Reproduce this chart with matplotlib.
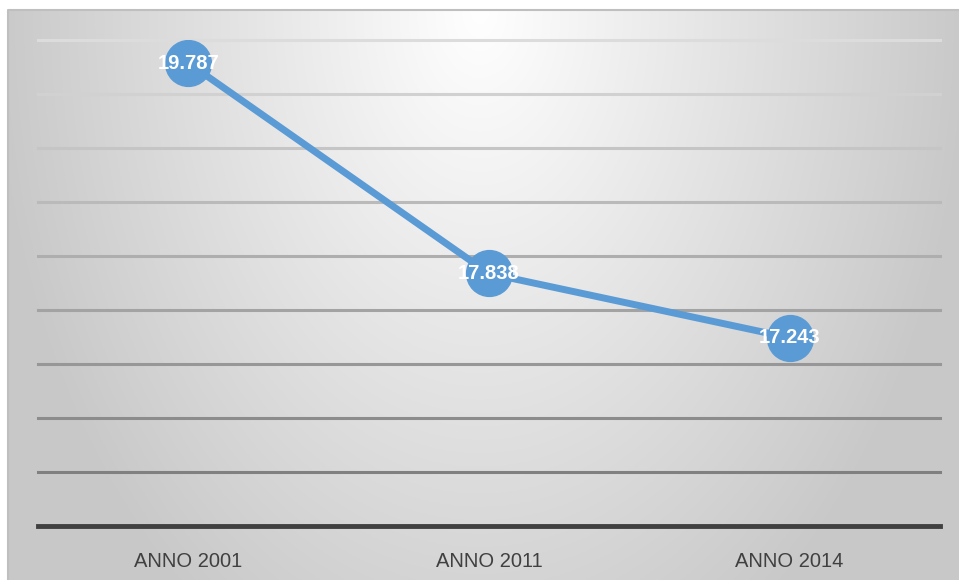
import numpy as np
import matplotlib.pyplot as plt
from matplotlib import font_manager

categories = ['ANNO 2001', 'ANNO 2011', 'ANNO 2014']
values = [19.787, 17.838, 17.243]
value_labels = ['19.787', '17.838', '17.243']
grid_levels = np.arange(15.5, 20.01, 0.5)

names = {f.name for f in font_manager.fontManager.ttflist}
narrow = 'Liberation Sans Narrow' if 'Liberation Sans Narrow' in names else 'Liberation Sans'

W, H = 959, 580
fig = plt.figure(figsize=(W / 100, H / 100), dpi=100)
fig.patch.set_facecolor('white')

# gradient backdrop
bx0, by0 = 8, 10
bg = fig.add_axes([bx0 / W, 0, (W - bx0) / W, (H - by0) / H])
bg.set_axis_off()
ny, nx = 300, 500
xx, yy = np.meshgrid(np.linspace(0, W - bx0, nx), np.linspace(0, H - by0, ny))
d = np.sqrt(((xx - 472) / 480) ** 2 + ((yy - 0) / 720) ** 2)
shade = np.clip(1.0 - 0.21 * d, 0.785, 1.0)
img = np.dstack([shade, shade, shade])
bg.imshow(img, extent=[0, 1, 0, 1], aspect='auto', origin='upper')
bg.set_xlim(0, 1)
bg.set_ylim(0, 1)
bg.plot([0, 0, 1], [0, 1, 1], color='#bfbfbf', lw=1.5, clip_on=False)

# main plot area
px0, px1 = 38, 940
py_top, py_bot = 40, 526
ax = fig.add_axes([px0 / W, (H - py_bot) / H, (px1 - px0) / W, (py_bot - py_top) / H])
ax.patch.set_alpha(0)
ax.set_xlim(-0.5, 2.5)
ax.set_ylim(15.5, 20)

light = np.array([0xdc, 0xdc, 0xdc]) / 255
dark = np.array([0x80, 0x80, 0x80]) / 255
n = len(grid_levels)
for i, lvl in enumerate(grid_levels[1:][::-1]):
    t = i / (n - 2)
    c = light * (1 - t) + dark * t
    ax.axhline(lvl, color=c, lw=2.2, zorder=1, clip_on=False)
ax.axhline(15.5, color='#404040', lw=3.5, zorder=2, clip_on=False)

x = np.arange(len(categories))
ax.plot(x, values, color='#5b9bd5', lw=5, marker='o', markersize=33,
        markerfacecolor='#5b9bd5', markeredgecolor='#5b9bd5', zorder=3,
        solid_capstyle='round')
for xi, v, lab in zip(x, values, value_labels):
    ax.text(xi, v, lab, ha='center', va='center', color='white',
            fontsize=14.5, fontweight='bold', family=[narrow, 'DejaVu Sans'], zorder=4)

for s in ax.spines.values():
    s.set_visible(False)
ax.set_yticks([])
ax.set_xticks(x)
ax.set_xticklabels(categories, fontsize=14.5, color='#404040', family=[narrow, 'DejaVu Sans'])
ax.tick_params(axis='x', length=0, pad=19)

fig.savefig('out.png', dpi=100)
